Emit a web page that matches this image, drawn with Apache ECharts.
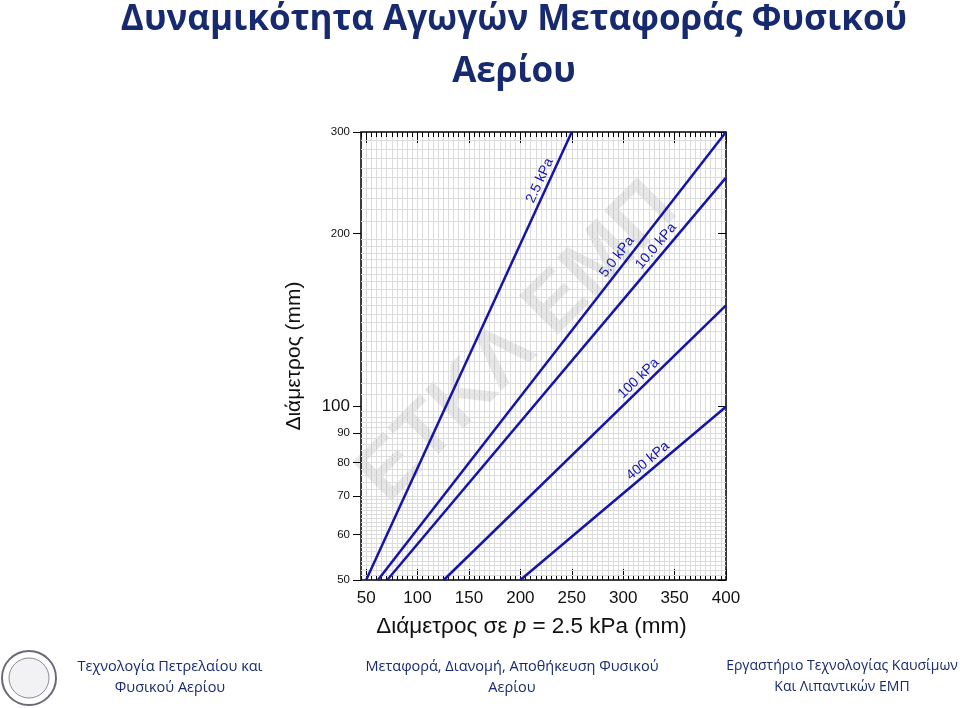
<!DOCTYPE html>
<html>
<head>
<meta charset="utf-8">
<script src="https://cdn.jsdelivr.net/npm/echarts@6/dist/echarts.min.js"></script>
<style>
  html, body { margin: 0; padding: 0; background: #fff; }
  #chart { width: 960px; height: 708px; }
</style>
</head>
<body>
<div id="chart"></div>
<script>
var chartDom = document.getElementById('chart');
var myChart = echarts.init(chartDom);

// tick labels
var xTicks = [50, 100, 150, 200, 250, 300, 350, 400];
var yTicks = [50, 60, 70, 80, 90, 100, 200, 300];

// lines: start (at 50 mm) and end points
var pressures = ['2.5 kPa', '5.0 kPa', '10.0 kPa', '100 kPa', '400 kPa'];
var startX = [50, 61.5, 70.5, 125.5, 200];
var startY = [50, 50, 50, 50, 50];
var endX = [250, 400, 400, 400, 400];
var endY = [300, 300, 250, 150, 100];

// where each pressure label sits
var labelX = [219, 294, 332, 315, 324];
var labelY = [247, 182, 190, 112, 80.5];

var lineColor = '#1414aa';
var navy = '#172a70';

// horizontal grid lines of the log scale
var hGrid = [];
for (var v = 51; v < 70; v++) hGrid.push(v);
for (var v = 70; v < 100; v += 2) hGrid.push(v);
for (var v = 105; v < 200; v += 5) hGrid.push(v);
for (var v = 210; v < 300; v += 10) hGrid.push(v);

var series = [{
  type: 'line',
  data: [],
  z: 1,
  silent: true,
  markLine: {
    silent: true,
    animation: false,
    symbol: ['none', 'none'],
    label: { show: false },
    lineStyle: { color: '#dcdcdc', type: 'solid', width: 1 },
    data: hGrid.map(function (v) { return { yAxis: v }; })
  }
}];
pressures.forEach(function (name, i) {
  series.push({
    name: name,
    type: 'line',
    z: 5,
    symbol: 'none',
    animation: false,
    lineStyle: { color: lineColor, width: 2.5 },
    data: [[startX[i], startY[i]], [endX[i], endY[i]]]
  });
});

function xAxisDef(pos, major) {
  var a = {
    type: 'value',
    position: pos,
    min: 45,
    max: 400,
    axisLine: { show: false },
    axisTick: { show: true, inside: true, length: major ? 11 : 5, lineStyle: { color: '#000', width: 1 } },
    axisLabel: { show: false },
    splitLine: { show: false }
  };
  if (major) {
    a.axisTick.customValues = xTicks;
    if (pos === 'bottom') {
      a.axisLabel = { show: true, customValues: xTicks, fontSize: 17, color: '#111', margin: 10, fontFamily: 'Liberation Sans' };
      a.name = '{a|Διάμετρος σε }{i|p}{a| = 2.5 kPa (mm)}';
      a.nameLocation = 'middle';
      a.nameGap = 35;
      a.nameTextStyle = {
        padding: [0, 24, 0, 0],
        rich: {
          a: { fontSize: 22.5, color: '#111', fontFamily: 'Liberation Sans' },
          i: { fontSize: 22.5, color: '#111', fontStyle: 'italic', fontFamily: 'Liberation Sans' }
        }
      };
    }
  } else {
    a.interval = 5;
    if (pos === 'bottom') {
      a.splitLine = { show: true, lineStyle: { color: '#dcdcdc', width: 1 } };
    }
  }
  return a;
}

function yAxisDef(pos) {
  var a = {
    type: 'log',
    logBase: 10,
    position: pos,
    min: 50,
    max: 300,
    axisLine: { show: false },
    axisTick: { show: true, customValues: yTicks, inside: pos === 'right', length: 8, lineStyle: { color: '#000', width: 1 } },
    axisLabel: { show: false },
    splitLine: { show: false },
    minorTick: { show: false },
    minorSplitLine: { show: false }
  };
  if (pos === 'left') {
    a.axisLabel = {
      show: true,
      customValues: yTicks,
      margin: 11,
      formatter: function (val) {
        return Math.round(val) === 100 ? '{b|100}' : '{s|' + Math.round(val) + '}';
      },
      rich: {
        b: { fontSize: 17, color: '#111', fontFamily: 'Liberation Sans' },
        s: { fontSize: 11.5, color: '#111', fontFamily: 'Liberation Sans' }
      }
    };
    a.name = 'Διάμετρος (mm)';
    a.nameLocation = 'middle';
    a.nameGap = 56;
    a.nameTextStyle = { fontSize: 21, color: '#111', fontFamily: 'Liberation Sans' };
  }
  return a;
}

var option = {
  backgroundColor: '#fff',
  animation: false,
  grid: {
    left: 361, right: 234, top: 132, bottom: 128,
    show: true, borderColor: '#000', borderWidth: 1.5, backgroundColor: 'transparent', z: 4
  },
  xAxis: [xAxisDef('bottom', false), xAxisDef('bottom', true), xAxisDef('top', false), xAxisDef('top', true)],
  yAxis: [yAxisDef('left'), yAxisDef('right')],
  series: series
};

option && myChart.setOption(option);

// texts around the chart and pressure labels along the lines
var elements = [
  {
    type: 'text', x: 514, y: 20, z: 10,
    style: { text: 'Δυναμικότητα Αγωγών Μεταφοράς Φυσικού', font: 'bold 35px "Open Sans"', fill: navy, textAlign: 'center', textVerticalAlign: 'middle' }
  },
  {
    type: 'text', x: 514, y: 72, z: 10,
    style: { text: 'Αερίου', font: 'bold 35px "Open Sans"', fill: navy, textAlign: 'center', textVerticalAlign: 'middle' }
  },
  {
    type: 'text', x: 518, y: 343, rotation: Math.PI / 4, z: 1,
    style: { text: 'ΕΤΚΛ ΕΜΠ', font: 'bold 80px "Liberation Sans"', fill: 'rgba(0,0,0,0.09)', textAlign: 'center', textVerticalAlign: 'middle' }
  },
  {
    type: 'group', z: 10,
    children: [
      { type: 'circle', shape: { cx: 29, cy: 678, r: 27 }, style: { fill: '#fff', stroke: '#6a6a7a', lineWidth: 2 } },
      { type: 'circle', shape: { cx: 29, cy: 678, r: 20 }, style: { fill: '#f2f2f4', stroke: '#8a8a9a', lineWidth: 1 } }
    ]
  },
  {
    type: 'text', x: 170, y: 677, z: 10,
    style: { text: 'Τεχνολογία Πετρελαίου και\nΦυσικού Αερίου', font: '14.5px "Open Sans"', lineHeight: 21, fill: navy, textAlign: 'center', textVerticalAlign: 'middle' }
  },
  {
    type: 'text', x: 512, y: 677, z: 10,
    style: { text: 'Μεταφορά, Διανομή, Αποθήκευση Φυσικού\nΑερίου', font: '14.5px "Open Sans"', lineHeight: 21, fill: navy, textAlign: 'center', textVerticalAlign: 'middle' }
  },
  {
    type: 'text', x: 842, y: 677, z: 10,
    style: { text: 'Εργαστήριο Τεχνολογίας Καυσίμων\nΚαι Λιπαντικών ΕΜΠ', font: '14px "Open Sans"', lineHeight: 21, fill: navy, textAlign: 'center', textVerticalAlign: 'middle' }
  }
];

pressures.forEach(function (name, i) {
  var p0 = myChart.convertToPixel({ xAxisIndex: 0, yAxisIndex: 0 }, [startX[i], startY[i]]);
  var p1 = myChart.convertToPixel({ xAxisIndex: 0, yAxisIndex: 0 }, [endX[i], endY[i]]);
  var pos = myChart.convertToPixel({ xAxisIndex: 0, yAxisIndex: 0 }, [labelX[i], labelY[i]]);
  var ang = Math.atan2(p0[1] - p1[1], p1[0] - p0[0]);
  elements.push({
    type: 'text', x: pos[0], y: pos[1], rotation: ang, z: 10,
    style: { text: name, font: '14px "Liberation Sans"', fill: lineColor, textAlign: 'center', textVerticalAlign: 'middle' }
  });
});

myChart.setOption({ graphic: { elements: elements } });
</script>
</body>
</html>
